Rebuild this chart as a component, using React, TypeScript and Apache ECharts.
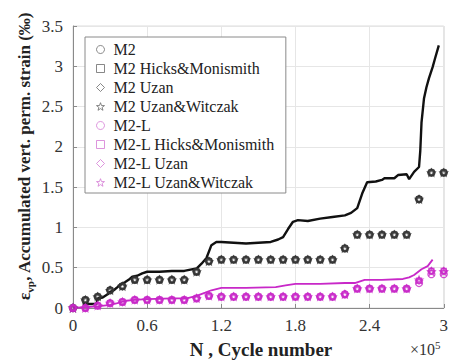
import React, { useEffect, useRef } from "react";
import * as echarts from "echarts";

// Cycle positions of the model predictions (×10^5 cycles)
const markerCycles = [
  0, 0.1, 0.2, 0.3, 0.4, 0.5, 0.6, 0.7, 0.8, 0.9, 1.0, 1.1, 1.2, 1.3, 1.4, 1.5,
  1.6, 1.7, 1.8, 1.9, 2.0, 2.1, 2.2, 2.3, 2.4, 2.5, 2.6, 2.7, 2.8, 2.9, 3.0,
];

// M2 model predictions (‰)
const m2Base = [
  0, 0.1, 0.14, 0.22, 0.27, 0.35, 0.35, 0.35, 0.35, 0.35, 0.45, 0.58, 0.6, 0.6,
  0.6, 0.6, 0.6, 0.6, 0.6, 0.6, 0.6, 0.6, 0.74, 0.91, 0.91, 0.91, 0.91, 0.91,
  1.35, 1.68, 1.68,
];
const m2Hicks = [...m2Base];
const m2Uzan = [...m2Base];
const m2UzanWitczak = [...m2Base];

// M2-L model predictions (‰)
const m2lBase = [
  0, 0.0, 0.03, 0.06, 0.075, 0.1, 0.1, 0.1, 0.1, 0.1, 0.12, 0.15, 0.14, 0.14,
  0.14, 0.14, 0.14, 0.14, 0.14, 0.14, 0.14, 0.14, 0.17, 0.24, 0.24, 0.24, 0.24,
  0.24, 0.31, 0.42, 0.42,
];
const m2lHicks = [
  0, 0.0, 0.03, 0.06, 0.075, 0.1, 0.1, 0.1, 0.1, 0.1, 0.12, 0.15, 0.14, 0.14,
  0.14, 0.14, 0.14, 0.14, 0.14, 0.14, 0.14, 0.14, 0.17, 0.24, 0.24, 0.24, 0.24,
  0.24, 0.34, 0.46, 0.46,
];
const m2lUzan = [...m2lHicks];
const m2lUzanWitczak = [
  0, 0.0, 0.03, 0.06, 0.075, 0.1, 0.1, 0.1, 0.1, 0.1, 0.12, 0.15, 0.14, 0.14,
  0.14, 0.14, 0.14, 0.14, 0.14, 0.14, 0.14, 0.14, 0.17, 0.24, 0.24, 0.24, 0.24,
  0.24, 0.35, 0.45, 0.45,
];

// Measured curves: [cycles ×10^5, strain ‰]
const m2Measured = [
  [0.08, 0.05], [0.19, 0.05], [0.2, 0.12], [0.24, 0.13], [0.28, 0.17], [0.3, 0.2],
  [0.33, 0.22], [0.36, 0.26], [0.38, 0.29], [0.42, 0.32], [0.45, 0.35], [0.48, 0.39],
  [0.52, 0.4], [0.56, 0.43], [0.6, 0.45], [0.7, 0.45], [0.8, 0.46], [0.9, 0.46],
  [0.96, 0.48], [1.0, 0.49], [1.04, 0.55], [1.08, 0.62], [1.12, 0.78], [1.16, 0.82],
  [1.2, 0.82], [1.3, 0.81], [1.4, 0.8], [1.5, 0.81], [1.6, 0.82], [1.66, 0.85],
  [1.7, 0.88], [1.74, 0.98], [1.78, 1.07], [1.82, 1.09], [1.9, 1.08], [2.0, 1.11],
  [2.1, 1.13], [2.2, 1.15], [2.25, 1.18], [2.3, 1.24], [2.34, 1.42], [2.38, 1.56],
  [2.45, 1.57], [2.5, 1.59], [2.52, 1.61], [2.6, 1.61], [2.63, 1.65], [2.7, 1.66],
  [2.72, 1.6], [2.76, 1.69], [2.8, 1.75], [2.81, 1.95], [2.82, 2.3], [2.84, 2.6],
  [2.86, 2.74], [2.88, 2.85], [2.91, 2.99], [2.93, 3.1], [2.96, 3.26],
];
const m2lMeasured = [
  [0, 0], [0.1, 0.01], [0.2, 0.02], [0.3, 0.04], [0.36, 0.06], [0.43, 0.09],
  [0.5, 0.1], [0.6, 0.11], [0.8, 0.12], [0.92, 0.12], [1.0, 0.15], [1.07, 0.19],
  [1.12, 0.22], [1.2, 0.25], [1.4, 0.25], [1.64, 0.26], [1.72, 0.28], [1.8, 0.3],
  [2.0, 0.3], [2.2, 0.31], [2.28, 0.31], [2.36, 0.35], [2.5, 0.35], [2.67, 0.36],
  [2.72, 0.38], [2.76, 0.41], [2.82, 0.48], [2.87, 0.52], [2.91, 0.6],
];

const legendNames = [
  "M2",
  "M2 Hicks&Monismith",
  "M2 Uzan",
  "M2 Uzan&Witczak",
  "M2-L",
  "M2-L Hicks&Monismith",
  "M2-L Uzan",
  "M2-L Uzan&Witczak",
];

const STAR =
  "path://M12,0 L14.9,8.1 L23.4,8.3 L16.6,13.5 L19.1,21.7 L12,16.9 L4.9,21.7 L7.4,13.5 L0.6,8.3 L9.1,8.1 Z";

const FONT = "Liberation Serif";
const DARK = "#333333";
const MAGENTA = "#c828c8";

function markerSeries(name: string, values: number[], symbol: string, color: string, size: number) {
  return {
    name,
    type: "scatter",
    symbol,
    symbolSize: size,
    symbolKeepAspect: true,
    data: markerCycles.map((c, i) => [c, values[i]]),
    itemStyle: { color: "rgba(0,0,0,0)", borderColor: color, borderWidth: 1.3 },
    z: 3,
  };
}

export default function App() {
  const ref = useRef<HTMLDivElement>(null);

  useEffect(() => {
    if (!ref.current) return;
    const chart = echarts.init(ref.current, undefined, { renderer: "svg" });
    const legendColors = ["#6a6a6a", "#6a6a6a", "#6a6a6a", "#6a6a6a", "#d47ad4", "#d47ad4", "#d47ad4", "#d47ad4"];
    chart.setOption({
      animation: false,
      backgroundColor: "#ffffff",
      grid: {
        left: 73,
        right: 3,
        top: 26,
        bottom: 54,
        show: true,
        borderColor: "#dcdcdc",
        borderWidth: 1,
      },
      xAxis: {
        type: "value",
        min: 0,
        max: 3,
        interval: 0.6,
        axisLine: { show: true, lineStyle: { color: "#8a8a8a", width: 1 } },
        axisTick: { show: true, inside: true, length: 4, lineStyle: { color: "#8a8a8a" } },
        axisLabel: { color: "#333", fontFamily: FONT, fontSize: 17, margin: 9 },
        splitLine: { show: true, lineStyle: { color: "#e6e6e6", width: 1 } },
      },
      yAxis: {
        type: "value",
        min: 0,
        max: 3.5,
        interval: 0.5,
        axisLine: { show: true, lineStyle: { color: "#8a8a8a", width: 1 } },
        axisTick: { show: true, inside: true, length: 4, lineStyle: { color: "#8a8a8a" } },
        axisLabel: { color: "#333", fontFamily: FONT, fontSize: 17, margin: 10 },
        splitLine: { show: true, lineStyle: { color: "#e6e6e6", width: 1 } },
      },
      legend: {
        orient: "vertical",
        left: 85,
        top: 37,
        itemWidth: 8,
        itemHeight: 8,
        itemGap: 0,
        padding: [3, 11, 1, 11],
        backgroundColor: "#ffffff",
        borderColor: "#8a8a8a",
        borderWidth: 1,
        textStyle: {
          fontFamily: FONT,
          fontSize: 16,
          color: "#222",
          lineHeight: 19,
          padding: [0, 0, 0, 4],
        },
        data: legendNames.map((n, i) => ({
          name: n,
          itemStyle: { color: "rgba(0,0,0,0)", borderColor: legendColors[i], borderWidth: 1 },
        })),
      },
      series: [
        {
          name: "M2 test",
          type: "line",
          data: m2Measured,
          showSymbol: false,
          lineStyle: { color: "#111", width: 2.4 },
          z: 2,
        },
        {
          name: "M2-L test",
          type: "line",
          data: m2lMeasured,
          showSymbol: false,
          lineStyle: { color: MAGENTA, width: 1.8 },
          z: 2,
        },
        markerSeries("M2", m2Base, "circle", DARK, 7),
        markerSeries("M2 Hicks&Monismith", m2Hicks, "rect", DARK, 5),
        markerSeries("M2 Uzan", m2Uzan, "diamond", DARK, 7),
        markerSeries("M2 Uzan&Witczak", m2UzanWitczak, STAR, DARK, 7),
        markerSeries("M2-L", m2lBase, "circle", MAGENTA, 7),
        markerSeries("M2-L Hicks&Monismith", m2lHicks, "rect", MAGENTA, 5),
        markerSeries("M2-L Uzan", m2lUzan, "diamond", MAGENTA, 7),
        markerSeries("M2-L Uzan&Witczak", m2lUzanWitczak, STAR, MAGENTA, 7),
      ],
      graphic: [
        {
          type: "text",
          x: 24,
          y: 156,
          rotation: Math.PI / 2,
          style: {
            text: "{e|ε}{s|vp}{t|, Accumulated vert. perm. strain (‰)}",
            align: "center",
            verticalAlign: "middle",
            rich: {
              e: { fontFamily: FONT, fontSize: 17, fontWeight: "bold", fill: "#222", lineHeight: 22, verticalAlign: "middle" },
              s: { fontFamily: FONT, fontSize: 11, fontWeight: "bold", fill: "#222", lineHeight: 11, verticalAlign: "bottom" },
              t: { fontFamily: FONT, fontSize: 17, fontWeight: "bold", fill: "#222", lineHeight: 22, verticalAlign: "middle" },
            },
          },
        },
        {
          type: "text",
          x: 261,
          y: 349,
          style: {
            text: "N , Cycle number",
            fontFamily: FONT,
            fontSize: 19,
            fontWeight: "bold",
            fill: "#222",
            align: "center",
            verticalAlign: "middle",
          },
        },
        {
          type: "text",
          x: 410,
          y: 349,
          style: {
            text: "{m|×10}{p|5}",
            align: "left",
            verticalAlign: "middle",
            rich: {
              m: { fontFamily: FONT, fontSize: 16, fill: "#333", lineHeight: 20, verticalAlign: "middle" },
              p: { fontFamily: FONT, fontSize: 11, fill: "#333", lineHeight: 11, verticalAlign: "top" },
            },
          },
        },
      ],
    });
    return () => chart.dispose();
  }, []);

  return (
    <div
      ref={ref}
      style={{ position: "fixed", left: 0, top: 0, width: 451, height: 362 }}
    />
  );
}
